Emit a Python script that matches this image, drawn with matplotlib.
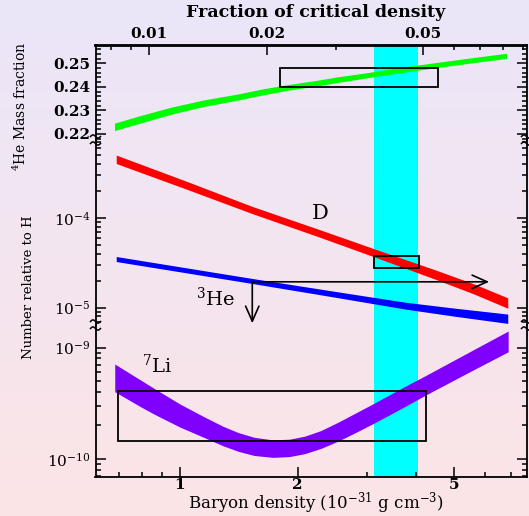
import numpy as np
import matplotlib
matplotlib.use('Agg')
import matplotlib.pyplot as plt
from matplotlib.lines import Line2D
from matplotlib.ticker import FixedLocator, NullFormatter, FuncFormatter

plt.rcParams['font.family'] = 'DejaVu Serif'
plt.rcParams['mathtext.fontset'] = 'dejavuserif'

# baryon density in units of 1e-31 g/cm^3
# 4He mass fraction band
he_rho = [0.682, 0.794, 0.953, 1.148, 1.409, 1.622, 1.892, 2.239, 2.535, 3.020, 3.540, 4.055, 4.571, 5.623, 6.823]
he_mid = [0.2230, 0.2262, 0.2299, 0.2330, 0.2357, 0.2378, 0.2398, 0.2416, 0.2431, 0.2450, 0.2468, 0.2482,
          0.2494, 0.2514, 0.2532]
he_half = [0.0016, 0.0016, 0.0015, 0.0014, 0.0013, 0.0013, 0.0012, 0.0012, 0.0012, 0.0011, 0.0011, 0.0011,
           0.0011, 0.0011, 0.0011]

# D/H band (log10 centre, half width in dex)
d_rho = [0.689, 1.035, 1.537, 2.285, 3.14, 4.48, 5.62, 6.87]
d_mid = [-3.346, -3.631, -3.914, -4.175, -4.390, -4.630, -4.790, -4.949]
d_half = [0.047, 0.044, 0.040, 0.042, 0.045, 0.052, 0.056, 0.058]

# 3He/H band
he3_rho = [0.689, 1.0, 1.537, 2.40, 3.75, 5.01, 6.87]
he3_mid = [-4.458, -4.572, -4.704, -4.840, -4.977, -5.050, -5.124]
he3_half = [0.028, 0.028, 0.028, 0.032, 0.038, 0.045, 0.052]

# 7Li/H band (log10 upper / lower edges)
li_rho = [0.683, 0.794, 0.864, 1.0, 1.160, 1.288, 1.409, 1.549, 1.730, 1.905, 2.084, 2.291, 2.535, 2.818,
          3.131, 3.750, 4.246, 5.546, 6.887]
li_up = [-9.148, -9.290, -9.370, -9.505, -9.625, -9.705, -9.762, -9.805, -9.828, -9.822, -9.795, -9.745,
         -9.670, -9.585, -9.500, -9.350, -9.250, -9.030, -8.852]
li_lo = [-9.396, -9.530, -9.600, -9.712, -9.810, -9.880, -9.930, -9.968, -9.985, -9.978, -9.952, -9.905,
         -9.840, -9.760, -9.678, -9.530, -9.425, -9.210, -9.038]

# observational boxes: (rho_lo, rho_hi, y_lo, y_hi)
he_box = (1.80, 4.55, 0.2400, 0.2482)
d_box = (3.13, 4.07, 2.79e-5, 3.81e-5)
li_box = (0.697, 4.25, 1.46e-10, 4.1e-10)
band = (3.13, 4.06)
he3_corner = (1.532, 1.94e-5)
he3_right = 6.16
he3_down = 6.7e-6

omega_per_rho = 0.01196

W, H = 529, 516
fig = plt.figure(figsize=(W / 100, H / 100), dpi=100)

# background gradient lavender -> pink
top_c = np.array([235, 230, 249]) / 255
bot_c = np.array([252, 228, 230]) / 255
t = np.linspace(0, 1, 256)[:, None, None]
grad = top_c * (1 - t) + bot_c * t
grad = np.repeat(grad, 2, axis=1)
bg = fig.add_axes([0, 0, 1, 1], zorder=-10)
bg.imshow(grad, aspect='auto', extent=[0, 1, 0, 1])
bg.axis('off')

L, R = 95.5, 526.5
y_top, y_b1, y_b2, y_bot = 45.5, 140, 325, 477


def box_rect(y0, y1):
    return [L / W, 1 - y1 / H, (R - L) / W, (y1 - y0) / H]


ax_he = fig.add_axes(box_rect(y_top, y_b1))
ax_ab = fig.add_axes(box_rect(y_b1, y_b2), sharex=ax_he)
ax_li = fig.add_axes(box_rect(y_b2, y_bot), sharex=ax_he)

for ax in (ax_he, ax_ab, ax_li):
    ax.set_facecolor('none')
    for s in ax.spines.values():
        s.set_linewidth(1.3)
    ax.tick_params(which='both', direction='in', left=True, right=True,
                   width=1.1, labelsize=11)
    ax.tick_params(which='major', length=7)
    ax.tick_params(which='minor', length=3.5)
    ax.axvspan(band[0], band[1], color='#00ffff', lw=0, zorder=1)

ax_he.spines['bottom'].set_visible(False)
ax_ab.spines['top'].set_visible(False)
ax_ab.spines['bottom'].set_visible(False)
ax_li.spines['top'].set_visible(False)

ax_he.set_xscale('log')
ax_he.set_xlim(0.61, 7.67)
ax_li.xaxis.set_major_locator(FixedLocator([1, 2, 5]))
ax_li.xaxis.set_minor_locator(FixedLocator([0.7, 0.8, 0.9, 3, 4, 6, 7]))
ax_li.xaxis.set_major_formatter(FuncFormatter(lambda v, p: '%g' % v))
ax_li.xaxis.set_minor_formatter(NullFormatter())
ax_he.tick_params(which='both', bottom=False, top=False, labelbottom=False)
ax_ab.tick_params(which='both', bottom=False, top=False, labelbottom=False)
ax_li.tick_params(which='both', bottom=True, top=False, labelbottom=True)
ax_li.tick_params(axis='x', pad=1)

arrow_style = '->,head_length=0.9,head_width=0.4'

# 4He panel
he_mid = np.array(he_mid)
he_half = np.array(he_half)
ax_he.fill_between(he_rho, he_mid - he_half, he_mid + he_half, color='#00ff00', lw=0, zorder=3)
ax_he.add_patch(plt.Rectangle((he_box[0], he_box[2]), he_box[1] - he_box[0], he_box[3] - he_box[2],
                              fill=False, ec='black', lw=1.3, zorder=4))
ax_he.set_ylim(0.2174, 0.2576)
ax_he.yaxis.set_major_locator(FixedLocator([0.22, 0.23, 0.24, 0.25]))
ax_he.yaxis.set_minor_locator(FixedLocator(np.arange(0.218, 0.2575, 0.002)))
ax_he.yaxis.set_major_formatter(FuncFormatter(lambda v, p: '%.2f' % v))

sec = ax_he.secondary_xaxis('top', functions=(lambda r: r * omega_per_rho,
                                               lambda o: o / omega_per_rho))
sec.set_xticks([0.01, 0.02, 0.05], ['0.01', '0.02', '0.05'])
sec.xaxis.set_minor_locator(FixedLocator([0.008, 0.009, 0.03, 0.04, 0.06, 0.07, 0.08, 0.09]))
sec.xaxis.set_minor_formatter(NullFormatter())
sec.tick_params(which='both', direction='in', width=1.1, labelsize=11, pad=3)
sec.tick_params(which='major', length=7)
sec.tick_params(which='minor', length=3.5)
sec.spines['top'].set_linewidth(1.3)

# D and 3He panel
d_mid = np.array(d_mid)
d_half = np.array(d_half)
he3_mid = np.array(he3_mid)
he3_half = np.array(he3_half)
ax_ab.set_yscale('log')
ax_ab.fill_between(d_rho, 10 ** (d_mid - d_half), 10 ** (d_mid + d_half), color='#ff0000', lw=0, zorder=3)
ax_ab.fill_between(he3_rho, 10 ** (he3_mid - he3_half), 10 ** (he3_mid + he3_half), color='#0000ff', lw=0,
                   zorder=3)
ax_ab.add_patch(plt.Rectangle((d_box[0], d_box[2]), d_box[1] - d_box[0], d_box[3] - d_box[2],
                              fill=False, ec='black', lw=1.3, zorder=4))
ax_ab.annotate('', xy=(he3_right, he3_corner[1]), xytext=he3_corner,
               arrowprops=dict(arrowstyle=arrow_style, lw=1.2, color='black', mutation_scale=12,
                               shrinkA=0, shrinkB=0), zorder=5)
ax_ab.annotate('', xy=(he3_corner[0], he3_down), xytext=he3_corner,
               arrowprops=dict(arrowstyle=arrow_style, lw=1.2, color='black', mutation_scale=12,
                               shrinkA=0, shrinkB=0), zorder=5)
ax_ab.text(2.285, 1.12e-4, 'D', fontsize=15, ha='center', va='center')
ax_ab.text(1.237, 1.27e-5, r'$^3$He', fontsize=14, ha='center', va='center')
ax_ab.set_ylim(6.4e-6, 7.4e-4)
ax_ab.yaxis.set_major_locator(FixedLocator([1e-5, 1e-4]))
ax_ab.yaxis.set_minor_locator(FixedLocator([m * 10.0 ** e for e in (-6, -5, -4) for m in range(2, 10)]))
ax_ab.yaxis.set_minor_formatter(NullFormatter())
ax_ab.yaxis.set_major_formatter(FuncFormatter(lambda v, p: r'$10^{%d}$' % round(np.log10(v))))

# 7Li panel
ax_li.set_yscale('log')
ax_li.fill_between(li_rho, 10 ** np.array(li_lo), 10 ** np.array(li_up), color='#8000ff', lw=0, zorder=3)
ax_li.add_patch(plt.Rectangle((li_box[0], li_box[2]), li_box[1] - li_box[0], li_box[3] - li_box[2],
                              fill=False, ec='black', lw=1.3, zorder=4))
ax_li.text(0.80, 7.0e-10, r'$^7$Li', fontsize=14, ha='left', va='center')
ax_li.set_ylim(10 ** -10.161, 10 ** -8.798)
ax_li.yaxis.set_major_locator(FixedLocator([1e-10, 1e-9]))
ax_li.yaxis.set_minor_locator(FixedLocator([m * 10.0 ** e for e in (-11, -10, -9) for m in range(2, 10)]))
ax_li.yaxis.set_minor_formatter(NullFormatter())
ax_li.yaxis.set_major_formatter(FuncFormatter(lambda v, p: r'$10^{%d}$' % round(np.log10(v))))

for ax in (ax_he, ax_li):
    for lab in ax.get_xticklabels() + ax.get_yticklabels():
        lab.set_fontweight('bold')
for lab in sec.get_xticklabels():
    lab.set_fontweight('bold')

# axis titles
fig.text(316 / W, 1 - 16.5 / H, 'Fraction of critical density', ha='center', va='baseline',
         fontsize=12.5, fontweight='bold')
fig.text(316 / W, 1 - 509.5 / H, r'Baryon density (10$^{-31}$ g cm$^{-3}$)', ha='center', va='baseline',
         fontsize=12)
fig.text(20 / W, 1 - 106 / H, r'$^4$He Mass fraction', rotation=90, ha='center', va='center', fontsize=10)
fig.text(29 / W, 1 - 287 / H, 'Number relative to H', rotation=90, ha='center', va='center', fontsize=9.5)

# axis break squiggles
for yb in (y_b1, y_b2):
    for xb in (L, R):
        for dy in (-3.5, 3.5):
            s = np.linspace(-1, 1, 25)
            xs = (xb + 5 * s) / W
            ys = 1 - (yb + dy + 1.6 * np.sin(np.pi * s)) / H
            fig.add_artist(Line2D(xs, ys, color='black', lw=1.1, transform=fig.transFigure))

fig.savefig('out.png', dpi=100)
